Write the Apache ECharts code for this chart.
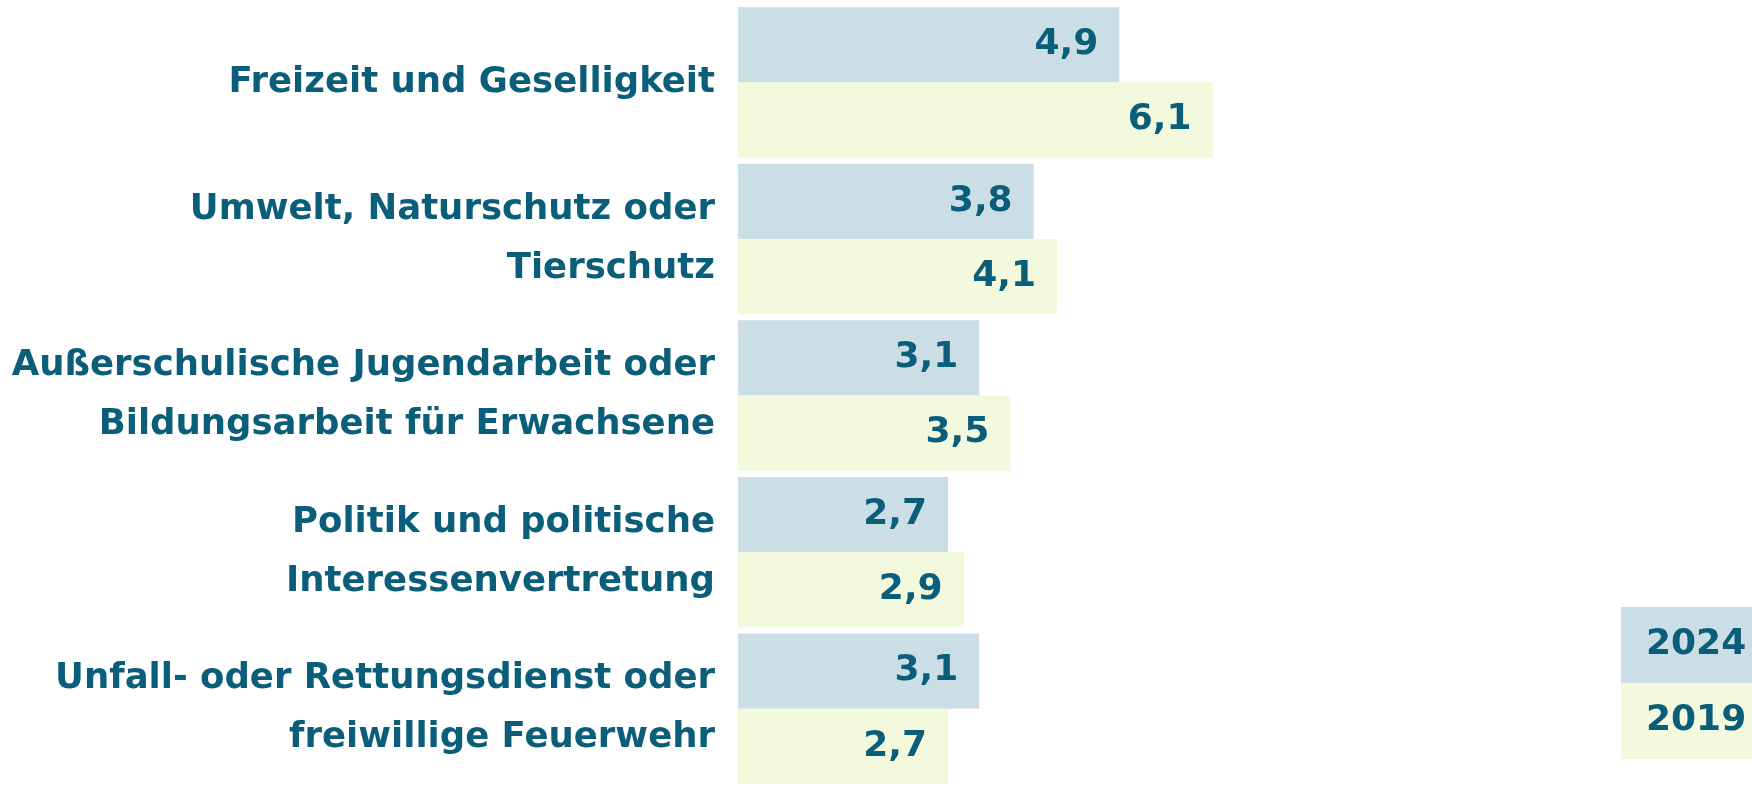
<!DOCTYPE html>
<html>
<head>
<meta charset="utf-8">
<script src="https://cdn.jsdelivr.net/npm/echarts@6/dist/echarts.min.js"></script>
<style>
  html, body { margin: 0; padding: 0; background: #fff; }
  #chart { width: 1752px; height: 787px; }
</style>
</head>
<body>
<div id="chart"></div>
<script>
// Engagementbereiche, Anteile in Prozent
var categories = [
  'Freizeit und Geselligkeit',
  'Umwelt, Naturschutz oder\nTierschutz',
  'Außerschulische Jugendarbeit oder\nBildungsarbeit für Erwachsene',
  'Politik und politische\nInteressenvertretung',
  'Unfall- oder Rettungsdienst oder\nfreiwillige Feuerwehr'
];
var values2024 = [4.9, 3.8, 3.1, 2.7, 3.1];
var values2019 = [6.1, 4.1, 3.5, 2.9, 2.7];
var seriesNames = ['2024', '2019'];

var textColor = '#0b5e7a';
var color2024 = '#cbdee5';
var color2019 = '#f3f9dc';
var fontName = 'DejaVu Sans';

var myChart = echarts.init(document.getElementById('chart'));

function labelFmt(p) {
  return String(p.value).replace('.', ',');
}

var option = {
  animation: false,
  grid: { left: 738, top: 4, width: 778, height: 790 },
  xAxis: {
    type: 'value', min: 0, max: 10,
    show: false
  },
  yAxis: {
    type: 'category',
    inverse: true,
    data: categories,
    axisLine: { show: false },
    axisTick: { show: false },
    axisLabel: {
      margin: 23,
      color: textColor,
      fontFamily: fontName,
      fontWeight: 'bold',
      fontSize: 35.5,
      lineHeight: 59,
      padding: [6, 0, 0, 0],
      align: 'right'
    }
  },
  legend: {
    orient: 'vertical',
    left: 1616, top: 607,
    padding: 0,
    itemGap: 0,
    itemWidth: 0, itemHeight: 0,
    icon: 'none',
    selectedMode: false,
    textStyle: {
      color: textColor, fontFamily: fontName, fontWeight: 'bold', fontSize: 36,
      width: 106, height: 72, lineHeight: 72, padding: [4, 0, 0, 25]
    },
    data: [
      { name: seriesNames[0], textStyle: { backgroundColor: color2024 } },
      { name: seriesNames[1], textStyle: { backgroundColor: color2019 } }
    ]
  },
  series: [
    {
      name: seriesNames[0], type: 'bar', data: values2024,
      barGap: '0%', barCategoryGap: '4%',
      itemStyle: { color: color2024 },
      label: {
        show: true, position: 'insideRight', distance: 21,
        formatter: labelFmt, color: textColor, padding: [4, 0, 0, 0],
        fontFamily: fontName, fontWeight: 'bold', fontSize: 36
      }
    },
    {
      name: seriesNames[1], type: 'bar', data: values2019,
      barGap: '0%', barCategoryGap: '4%',
      itemStyle: { color: color2019 },
      label: {
        show: true, position: 'insideRight', distance: 21,
        formatter: labelFmt, color: textColor, padding: [4, 0, 0, 0],
        fontFamily: fontName, fontWeight: 'bold', fontSize: 36
      }
    }
  ]
};

myChart.setOption(option);
</script>
</body>
</html>
